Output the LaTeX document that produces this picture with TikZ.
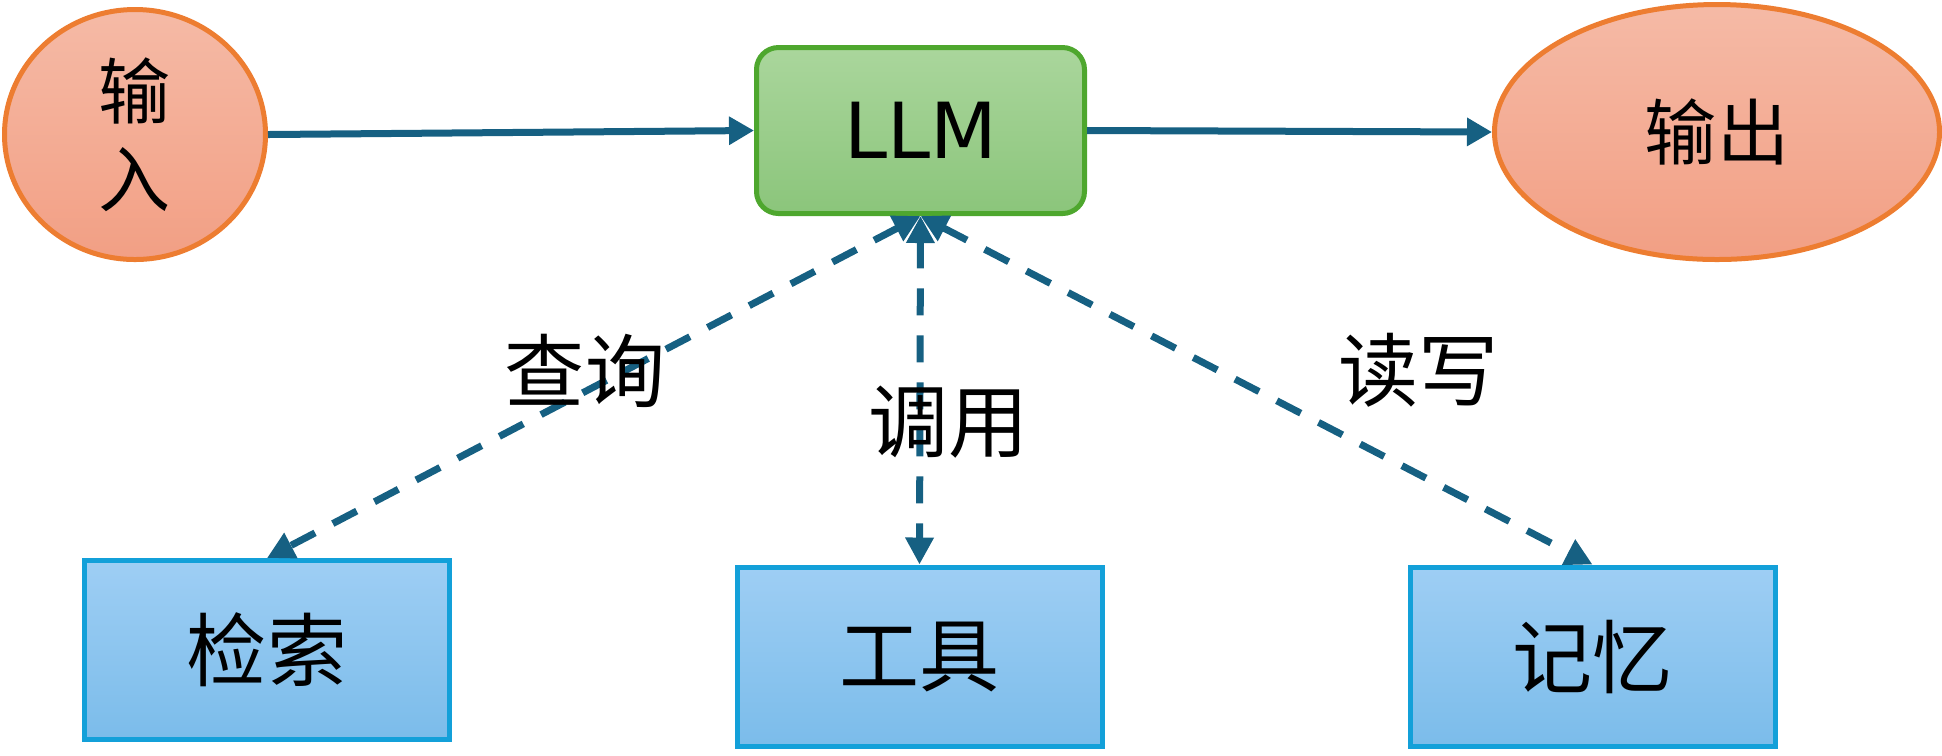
\documentclass[tikz,border=0pt]{standalone}
\usepackage{fontspec}
\usetikzlibrary{shapes.geometric,arrows.meta,shadings}

\setmainfont{DejaVu Sans}
\newfontfamily\cjk{Noto Sans CJK SC}

\definecolor{flowblue}{HTML}{166082}
\definecolor{ovaltop}{HTML}{F5BAA6}
\definecolor{ovalbot}{HTML}{F29F84}
\definecolor{ovalline}{HTML}{ED7D31}
\definecolor{llmtop}{HTML}{AAD69C}
\definecolor{llmbot}{HTML}{8BC57B}
\definecolor{llmline}{HTML}{4EA72E}
\definecolor{boxtop}{HTML}{9ECEF4}
\definecolor{boxbot}{HTML}{7BBCEA}
\definecolor{boxline}{HTML}{13A0D9}

\tikzset{
  oval/.style={ellipse, draw=ovalline, line width=0.05cm, top color=ovaltop,
    bottom color=ovalbot, inner sep=0pt, align=center,
    font=\cjk\fontsize{20.5pt}{25pt}\selectfont},
  llmbox/.style={rectangle, rounded corners=0.22cm, draw=llmline, line width=0.05cm,
    top color=llmtop, bottom color=llmbot, minimum width=3.28cm, minimum height=1.66cm,
    font=\fontsize{22pt}{26pt}\selectfont},
  partbox/.style={rectangle, draw=boxline, line width=0.05cm, top color=boxtop,
    bottom color=boxbot, minimum width=3.65cm, minimum height=1.79cm,
    font=\cjk\fontsize{22.8pt}{27pt}\selectfont},
  flow/.style={draw=flowblue, line width=0.07cm, -{Triangle[length=0.25cm,width=0.27cm]}},
  link/.style={draw=flowblue, line width=0.07cm, dash pattern=on 0.27cm off 0.2cm,
    {Triangle[length=0.27cm,width=0.27cm]}-{Triangle[length=0.27cm,width=0.27cm]}},
  linklabel/.style={font=\cjk\fontsize{22.8pt}{27pt}\selectfont, inner sep=0pt}
}

\begin{document}
\begin{tikzpicture}

    \useasboundingbox (0,0) rectangle (19.42,-7.55);

    % Top row: input, model, output
    \node[oval, minimum width=2.61cm, minimum height=2.50cm] (input) at (1.35,-1.345) {输\\入};
    \node[llmbox] (llm) at (9.205,-1.305) {LLM};
    \node[oval, minimum width=4.45cm, minimum height=2.55cm] (output) at (17.17,-1.32) {输出};

    % Bottom row: the three helpers
    \node[partbox] (search) at (2.67,-6.50) {检索};
    \node[partbox] (tool) at (9.195,-6.565) {工具};
    \node[partbox] (memory) at (15.925,-6.565) {记忆};

    % Main flow
    \draw[flow] (input.east) -- (llm.west);
    \draw[flow] (llm.east) -- (output.west);

    % Dashed links between the model and the helpers
    \draw[link] (llm.south) -- (search.north)
        node[linklabel, pos=0.452, xshift=-0.40cm] (querylabel) {查询};
    \draw[link] (llm.south) -- (tool.north)
        node[linklabel, pos=0.591, xshift=0.29cm] (calllabel) {调用};
    \draw[link] (llm.south) -- (memory.north)
        node[linklabel, pos=0.443, xshift=2.00cm] (rwlabel) {读写};
\end{tikzpicture}
\end{document}
